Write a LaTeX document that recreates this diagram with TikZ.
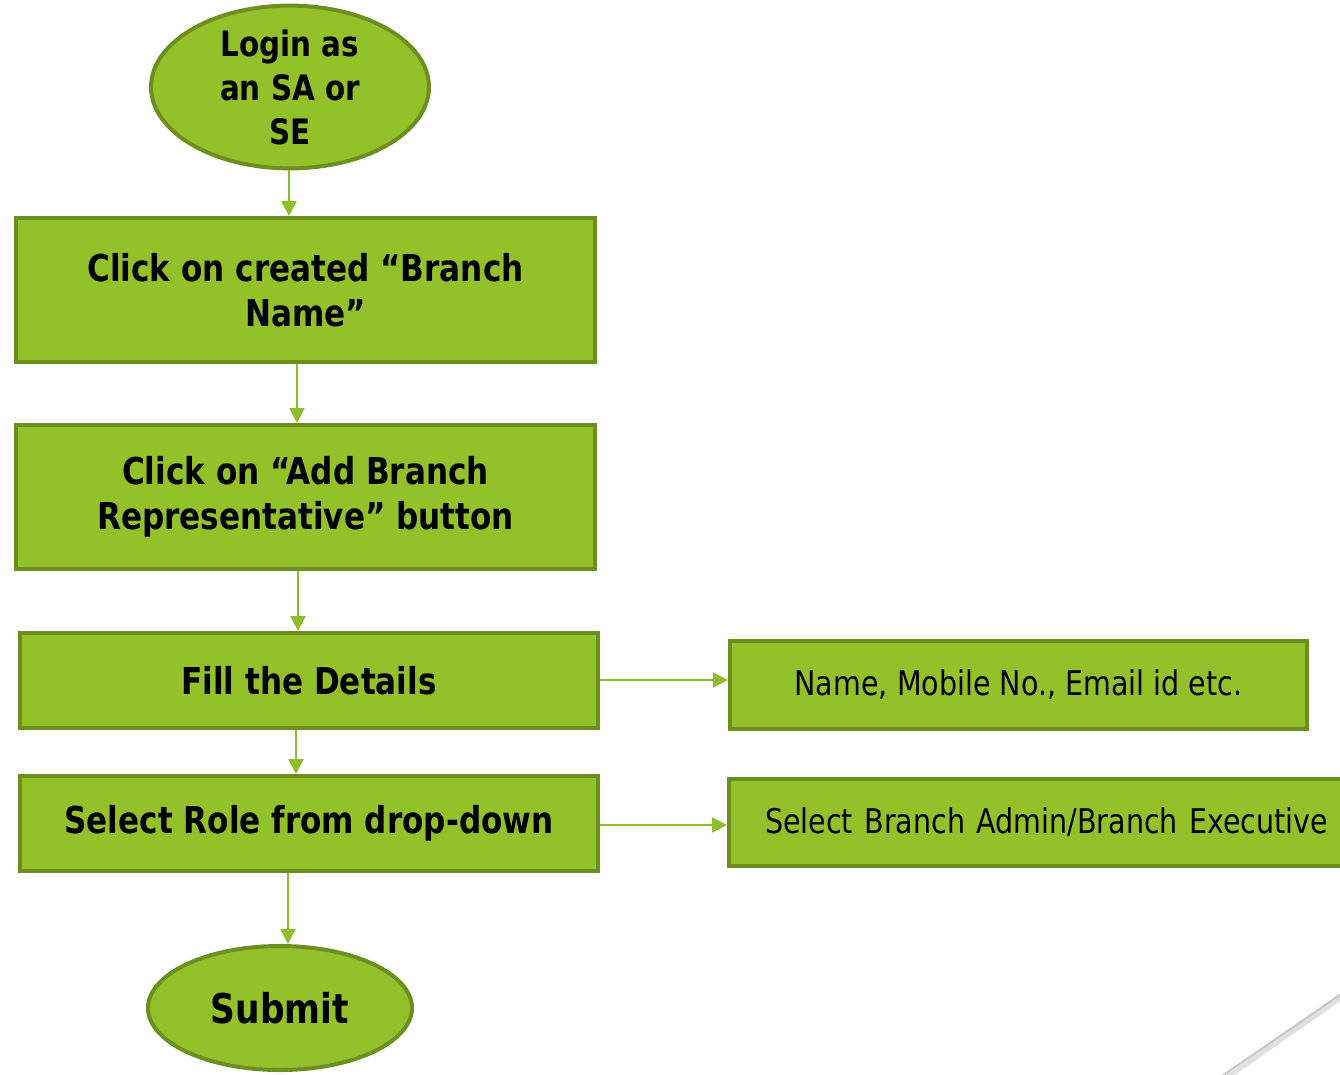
\documentclass[tikz,border=0pt]{standalone}
\usepackage{fontspec}
\setmainfont{DejaVu Sans}[FakeStretch=0.84]
\usetikzlibrary{shapes.geometric,arrows.meta}
\definecolor{gfill}{HTML}{92C12A}
\definecolor{gedge}{HTML}{6C8F1F}
\definecolor{garrow}{HTML}{8CBF2A}
\tikzset{
  stepbox/.style={draw=gedge, fill=gfill, line width=4pt, rectangle, inner sep=0pt, align=center, font=\fontsize{37}{45}\selectfont\bfseries},
  infobox/.style={draw=gedge, fill=gfill, line width=4pt, rectangle, inner sep=0pt, align=center, font=\fontsize{34}{38}\selectfont},
  termnode/.style={draw=gedge, fill=gfill, line width=4pt, ellipse, inner sep=0pt, align=center},
  flow/.style={draw=garrow, line width=2.5pt, -{Triangle[width=15pt,length=15pt]}}
}
\begin{document}
\begin{tikzpicture}[x=1pt,y=-1pt]
\useasboundingbox (0,0) rectangle (1340,1074);
\node[termnode, minimum width=278pt, minimum height=152pt, font=\fontsize{35}{44}\selectfont\bfseries] (login) at (290,87) {Login as\\an SA or\\SE};
\node[stepbox, minimum width=579pt, minimum height=144pt] (b1) at (305.5,290) {Click on created “Branch\\Name”};
\node[stepbox, minimum width=579pt, minimum height=144pt] (b2) at (305.5,497) {Click on “Add Branch\\Representative” button};
\node[stepbox, minimum width=578pt, minimum height=95pt] (b3) at (309,680.5) {Fill the Details};
\node[stepbox, minimum width=578pt, minimum height=95pt] (b4) at (309,823.5) {Select Role from drop-down};
\node[termnode, minimum width=264pt, minimum height=124pt, font=\fontsize{41}{48}\selectfont\bfseries] (submit) at (280,1008) {Submit};
\node[infobox, minimum width=577pt, minimum height=88pt] (r1) at (1018.5,685) {Name, Mobile No., Email id etc.};
\node[infobox, minimum width=640pt, minimum height=87pt, text width=600pt, align=left] (r2) at (1049,822.5) {\hspace*{16pt}Select Branch Admin/Branch Executive};
\coordinate (c1) at (289,0);
\coordinate (c2) at (297,0);
\coordinate (c3) at (298,0);
\coordinate (c4) at (296,0);
\coordinate (c5) at (288,0);
\draw[flow] (c1 |- login.south) -- (c1 |- b1.north);
\draw[flow] (c2 |- b1.south) -- (c2 |- b2.north);
\draw[flow] (c3 |- b2.south) -- (c3 |- b3.north);
\draw[flow] (c4 |- b3.south) -- (c4 |- b4.north);
\draw[flow] (c5 |- b4.south) -- (c5 |- submit.north);
\draw[flow] (b3.east |- 0,680) -- (r1.west |- 0,680);
\draw[flow] (b4.east |- 0,825) -- (r2.west |- 0,825);
\draw[black!12, line width=5pt] (1226,1078) -- (1346,994);
\draw[black!22, line width=2pt] (1222,1076) -- (1344,992);
\end{tikzpicture}
\end{document}
